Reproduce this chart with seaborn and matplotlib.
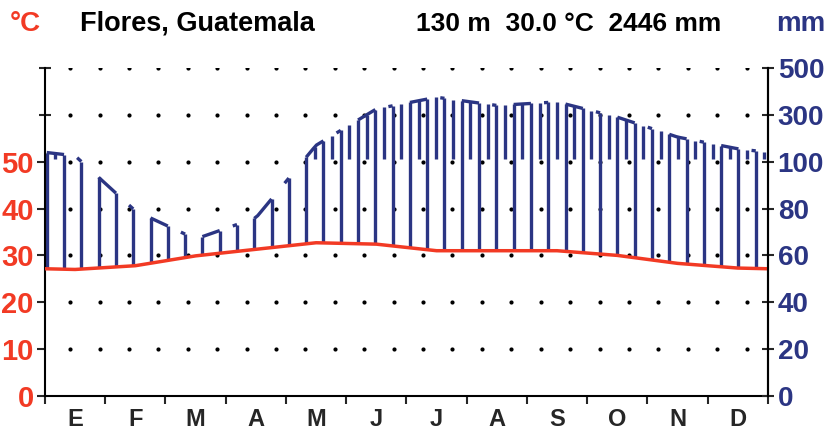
import numpy as np
import matplotlib
matplotlib.use("Agg")
import matplotlib.pyplot as plt
from matplotlib.collections import LineCollection
import seaborn as sns

# monthly climate values
months = ["E", "F", "M", "A", "M", "J", "J", "A", "S", "O", "N", "D"]
temp = [27.0, 27.8, 29.9, 31.3, 32.7, 32.4, 31.0, 31.0, 31.0, 30.0, 28.3, 27.3]
prec = [125, 79, 67, 76, 170, 325, 375, 340, 355, 290, 205, 155]
station = "Flores, Guatemala"
info = "130 m  30.0 °C  2446 mm"
temp_ticks = [0, 10, 20, 30, 40, 50]
prec_labels = ["0", "20", "40", "60", "80", "100", "300", "500"]

RED = "#f23a24"
NAVY = "#2b3583"


def to_scale(p):
    # 2 mm per degree up to 100 mm, 20 mm per degree above
    p = np.asarray(p, float)
    return np.where(p <= 100, p / 2, 50 + (p - 100) / 20)


# month centres plus both edges (edge value = mean of Dec and Jan)
xm = np.arange(12) + 0.5
xe = np.r_[0, xm, 12]
t_edge = (temp[0] + temp[-1]) / 2
te = np.r_[t_edge, temp, t_edge]
p_edge = to_scale((prec[0] + prec[-1]) / 2)
pe = np.r_[p_edge, to_scale(prec), p_edge]

sns.set_style("white")
plt.rcParams["font.family"] = ["Liberation Sans", "DejaVu Sans"]
plt.rcParams["font.weight"] = "bold"

fig = plt.figure(figsize=(8.28, 4.34), dpi=100)
ax = fig.add_axes([0.0543, 0.0876, 0.8732, 0.7558])
ax.set_xlim(0, 12)
ax.set_ylim(0, 70)

# dotted grid
dx = 0.42 + 0.488 * np.arange(24)
gx, gy = np.meshgrid(dx, np.arange(10, 71, 10))
sns.scatterplot(x=gx.ravel(), y=gy.ravel(), color="black", s=9, linewidth=0,
                ax=ax, zorder=1, legend=False)

# humid period hatching
s = 0.287
hx = 0.03 + s * np.arange(42)
ht = np.interp(hx, xe, te)
hp = np.interp(hx, xe, pe)
segs = [[(x, t), (x, p)] for x, t, p in zip(hx, ht, hp) if p > t]
mx = hx + s / 2
mp = np.interp(mx, xe, pe)
segs += [[(x, 50.6), (x, p)] for x, p in zip(mx, mp) if p > 51.5 and x < 11.95]
for k in range(0, 42, 3):
    xs = np.linspace(hx[k], hx[min(k + 1, 41)], 6)
    segs.append(list(zip(xs, np.interp(xs, xe, pe))))
    if k + 2 < 42:
        xs = np.linspace(hx[k + 2] - 0.07, hx[k + 2], 3)
        segs.append(list(zip(xs, np.interp(xs, xe, pe))))
ax.add_collection(LineCollection(segs, colors=NAVY, linewidths=2.4, zorder=2))

# temperature curve
sns.lineplot(x=xe, y=te, color=RED, linewidth=2.5, ax=ax, zorder=3)

for sp in ["left", "right", "bottom"]:
    ax.spines[sp].set_color("black")
    ax.spines[sp].set_linewidth(1.5)
ax.spines["top"].set_visible(False)

ax.set_xticks(np.arange(13))
ax.set_xticklabels([])
ax.set_xticks(xm, minor=True)
ax.set_xticklabels(months, minor=True, fontsize=17, fontweight="bold")
ax.tick_params(axis="x", which="major", direction="out", length=6, width=1.5, bottom=True)
ax.tick_params(axis="x", which="minor", length=0, pad=9)

ax.set_yticks(temp_ticks)
ax.set_yticklabels([str(v) for v in temp_ticks], color=RED, fontsize=21, fontweight="bold")
ax.set_yticks([60, 70], minor=True)
ax.tick_params(axis="y", which="major", direction="out", length=6, width=1.5, left=True, pad=2)
ax.tick_params(axis="y", which="minor", direction="inout", length=8, width=1.5, left=True)

ax2 = ax.twinx()
ax2.set_ylim(0, 70)
ax2.set_yticks(np.arange(0, 71, 10))
ax2.set_yticklabels(prec_labels, color=NAVY, fontsize=20, fontweight="bold")
ax2.tick_params(axis="y", direction="inout", length=8, width=1.5, right=True, pad=3)
for sp in ["left", "top", "bottom"]:
    ax2.spines[sp].set_visible(False)
ax2.spines["right"].set_color("black")
ax2.spines["right"].set_linewidth(1.5)
ax.set_xlabel("")
ax.set_ylabel("")

fig.text(0.012, 0.945, "°C", color=RED, fontsize=20, fontweight="bold", va="center")
fig.text(0.097, 0.945, station, color="black", fontsize=19.5, fontweight="bold", va="center")
fig.text(0.503, 0.945, info, color="black", fontsize=19, fontweight="bold", va="center")
fig.text(0.937, 0.945, "mm", color=NAVY, fontsize=20, fontweight="bold", va="center")

fig.savefig("out.png", dpi=100)
